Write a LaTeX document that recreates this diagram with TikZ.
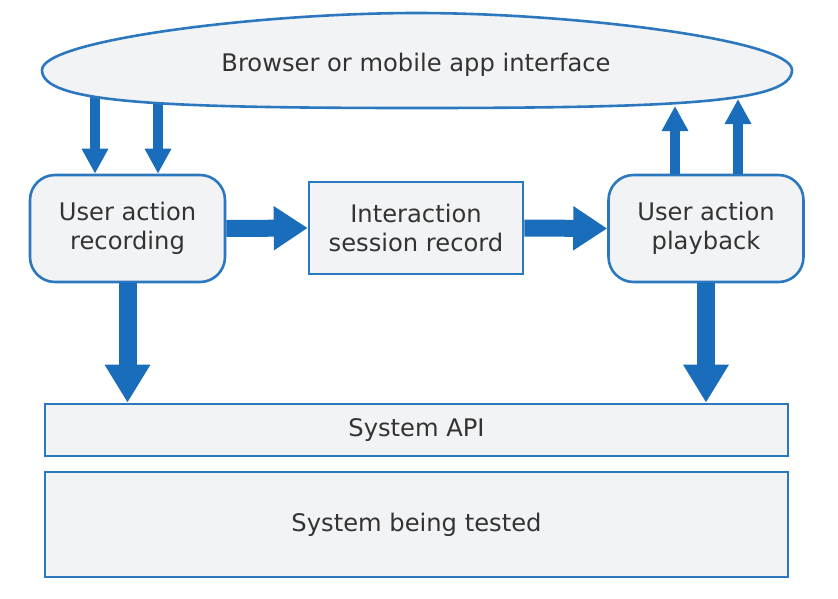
\documentclass[tikz,border=0pt]{standalone}
\usepackage{fontspec}
\setmainfont{DejaVu Sans}
\usetikzlibrary{arrows.meta}
\definecolor{arrblue}{HTML}{1A6DBB}
\definecolor{edgeblue}{HTML}{2C78BF}
\definecolor{boxfill}{HTML}{F2F3F5}
\definecolor{txt}{HTML}{333333}
\begin{document}
\begin{tikzpicture}[x=1pt,y=-1pt,
  lbl/.style={text=txt, font=\fontsize{24.2}{29}\selectfont, align=center},
  edge/.style={draw=edgeblue, line width=2.6pt, fill=boxfill},
  rbox/.style={lbl, edge, rounded corners=25pt, minimum width=195pt, minimum height=107pt, inner sep=0pt},
  sbox/.style={lbl, edge, inner sep=0pt},
  thinarr/.style={draw=arrblue, line width=10pt, -{Triangle[length=25pt,width=25pt]}},
  harr/.style={draw=arrblue, line width=17pt, -{Triangle[length=34pt,width=42pt]}},
  varr/.style={draw=arrblue, line width=18pt, -{Triangle[length=38pt,width=43pt]}}
]
\useasboundingbox (0,0) rectangle (838,598);

% boxes
\node[rbox] (rec) at (127.5,228.5) {User action\\recording};
\node[sbox, minimum width=214pt, minimum height=92pt] (isr) at (416,228) {Interaction\\session record};
\node[rbox] (play) at (706,228.5) {User action\\playback};
\node[sbox, minimum width=743pt, minimum height=52pt] (api) at (416.5,430) {System API};
\node[sbox, minimum width=743pt, minimum height=105pt] (sut) at (416.5,524.5) {System being tested};

% down arrows from the interface (start hidden under the ellipse)
\coordinate (d1) at (95,80);
\coordinate (d2) at (158,80);
\draw[thinarr] (d1) -- (d1 |- rec.north);
\draw[thinarr] (d2) -- (d2 |- rec.north);

% interface ellipse
\filldraw[edge] (42,70) .. controls (42,40) and (260,13) .. (417,13)
  .. controls (574,13) and (792,40) .. (792,70)
  .. controls (792,102) and (684,108) .. (417,108)
  .. controls (150,108) and (42,102) .. (42,70) -- cycle;
\node[lbl] (ui) at (416,65) {Browser or mobile app interface};

% up arrows to the interface
\coordinate (u1) at (675,106);
\coordinate (u2) at (738,99);
\draw[thinarr] (u1 |- play.north) -- (u1);
\draw[thinarr] (u2 |- play.north) -- (u2);

% horizontal arrows
\draw[harr] (rec.east) -- (isr.west);
\draw[harr] (isr.east) -- (play.west);

% down to API
\draw[varr] (rec.south) -- (rec.south |- api.north);
\draw[varr] (play.south) -- (play.south |- api.north);
\end{tikzpicture}
\end{document}
